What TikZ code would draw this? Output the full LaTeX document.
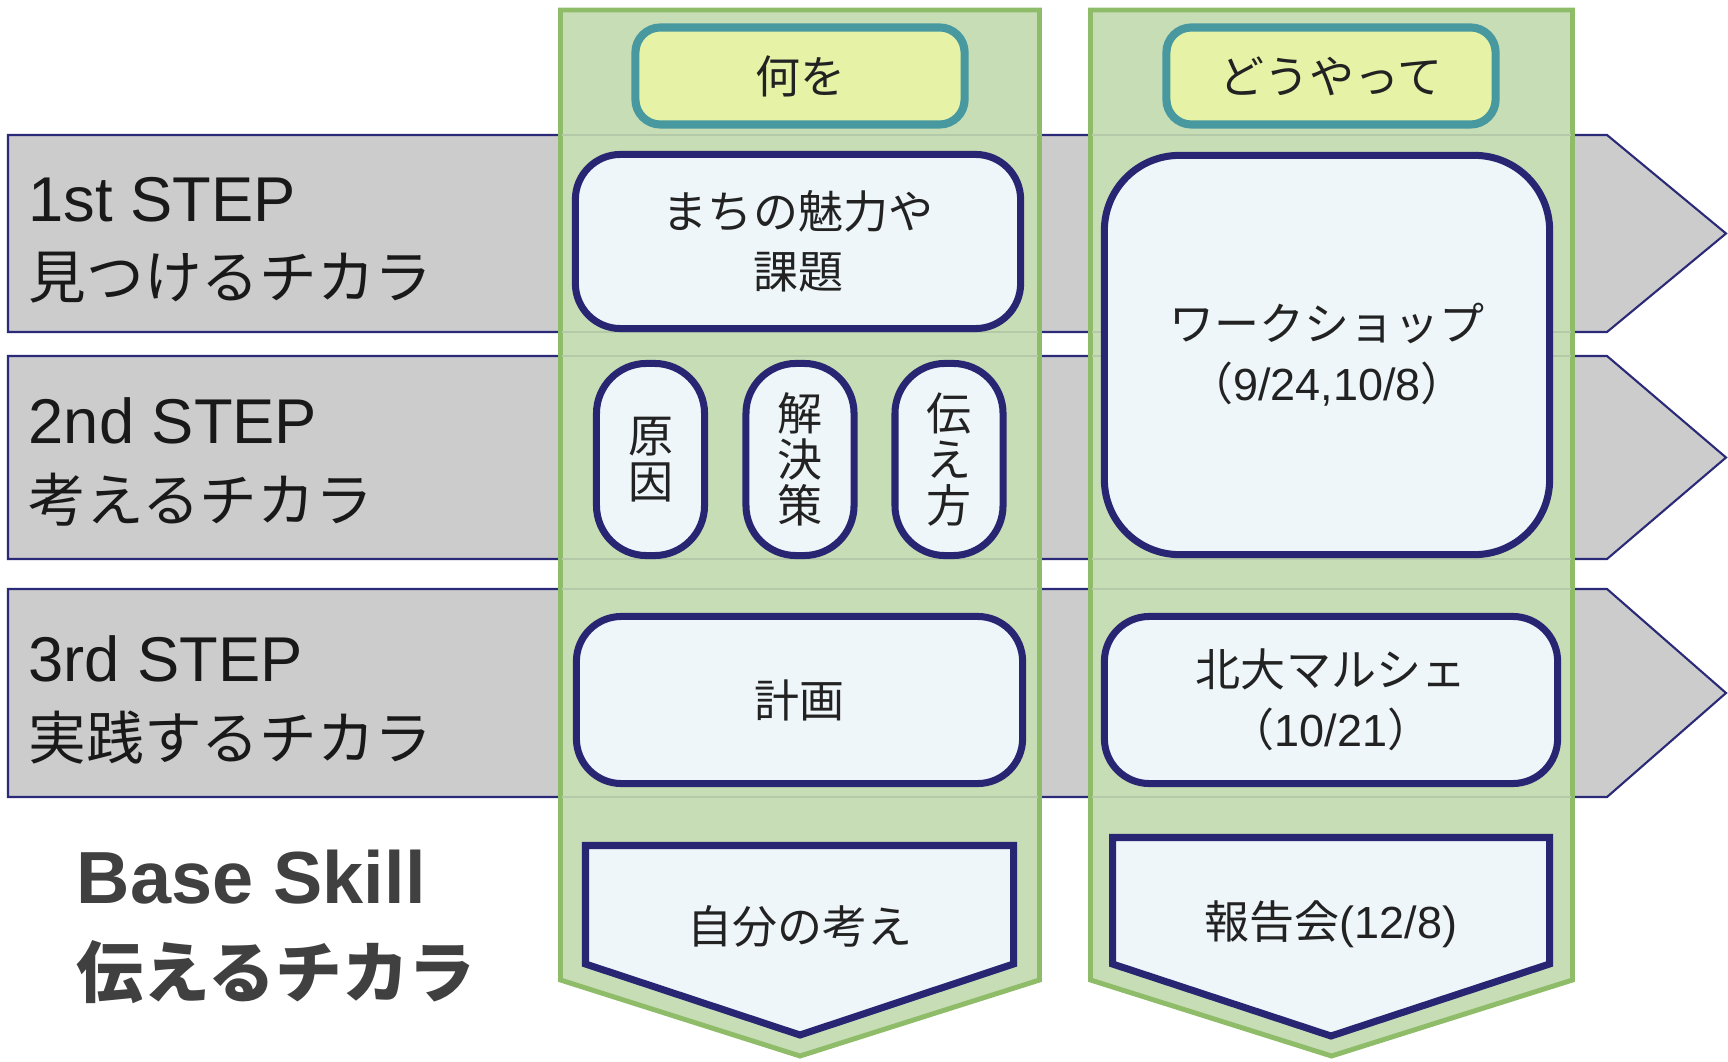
\documentclass[tikz,border=0pt]{standalone}
\usepackage{fontspec}
\setmainfont{Liberation Sans}
\newfontfamily\jp{Noto Sans CJK JP}
\newfontfamily\lat{Liberation Sans}

\definecolor{bandgray}{HTML}{CCCCCC}
\definecolor{bandline}{HTML}{2B2A78}
\definecolor{lanefill}{HTML}{C7DDB5}
\definecolor{laneline}{HTML}{8EBC69}
\definecolor{seam}{HTML}{B3C9A8}
\definecolor{itemfill}{HTML}{EEF6F9}
\definecolor{itemline}{HTML}{282673}
\definecolor{headfill}{HTML}{E6F3A6}
\definecolor{headline}{HTML}{4898A0}
\definecolor{ink}{HTML}{222222}
\definecolor{basegray}{HTML}{404040}

\begin{document}
\begin{tikzpicture}
[x=0.01cm, y=-0.01cm,
band/.style={draw=bandline, fill=bandgray, line width=0.6pt},
lane/.style={draw=laneline, fill=lanefill, line width=1.4pt},
seamline/.style={draw=seam, line width=0.6pt},
item/.style={draw=itemline, fill=itemfill, line width=2pt, rounded corners=0.45cm, inner sep=0pt, align=center, text=ink, font=\jp\fontsize{12.8}{17}\selectfont},
head/.style={item, draw=headline, fill=headfill, line width=2.3pt, rounded corners=0.25cm, minimum width=3.29cm, minimum height=0.97cm},
tall/.style={item, minimum width=1.08cm, minimum height=1.92cm, rounded corners=0.5cm, font=\jp\fontsize{12.8}{13}\selectfont},
tipbox/.style={draw=itemline, fill=itemfill, line width=2pt},
boxtext/.style={inner sep=0pt, text=ink, font=\jp\fontsize{12.8}{17}\selectfont},
steplabel/.style={anchor=west, align=left, inner sep=0pt, text=black!90, font=\fontsize{18}{22}\selectfont}]
\useasboundingbox (0,0) rectangle (1728,1061);

% steps
\draw[band] (8,135) -- (1607,135) -- (1726,233.5) -- (1607,332) -- (8,332) -- cycle;
\draw[band] (8,356) -- (1607,356) -- (1726,457.5) -- (1607,559) -- (8,559) -- cycle;
\draw[band] (8,589) -- (1607,589) -- (1726,693) -- (1607,797) -- (8,797) -- cycle;
\node[steplabel] (step1) at (28,240) {1st STEP\\{\jp\fontsize{16.4}{22}\selectfont 見つけるチカラ}};
\node[steplabel] (step2) at (28,462) {2nd STEP\\{\jp\fontsize{16.4}{22}\selectfont 考えるチカラ}};
\node[steplabel] (step3) at (28,700) {3rd STEP\\{\jp\fontsize{16.4}{22}\selectfont 実践するチカラ}};
\node[anchor=west, align=left, inner sep=0pt, text=basegray, font=\bfseries\fontsize{21}{26.5}\selectfont] (base) at (76,927) {Base Skill\\{\jp\bfseries\fontsize{19}{26.5}\selectfont 伝えるチカラ}};

% columns
\draw[lane] (560.5,10) -- (1039.5,10) -- (1039.5,980) -- (800,1056) -- (560.5,980) -- cycle;
\draw[lane] (1090.5,10) -- (1572.5,10) -- (1572.5,980) -- (1331.5,1056) -- (1090.5,980) -- cycle;
\foreach \y in {135,332,356,559,589,797}{
  \draw[seamline] (562,\y) -- (1038,\y);
  \draw[seamline] (1092,\y) -- (1571,\y);
}

% what
\node[head] (whatHead) at (800,76) {何を};
\node[item, minimum width=4.45cm, minimum height=1.74cm] (charm) at (798,241.5) {まちの魅力や\\課題};
\node[tall] (cause) at (650.5,459.5) {原\\因};
\node[tall] (solution) at (800,459.5) {解\\決\\策};
\node[tall] (convey) at (949,459.5) {伝\\え\\方};
\node[item, minimum width=4.46cm, minimum height=1.67cm] (plan) at (799.5,700) {計画};
\draw[tipbox] (585.5,845.5) -- (1013.5,845.5) -- (1013.5,964) -- (800,1035) -- (585.5,964) -- cycle;
\node[boxtext] (opinion) at (800,926) {自分の考え};

% how
\node[head] (howHead) at (1331,76) {どうやって};
\node[item, minimum width=4.45cm, minimum height=3.99cm, rounded corners=0.75cm] (workshop) at (1327,355) {ワークショップ\\（{\lat 9/24,10/8}）};
\node[item, minimum width=4.53cm, minimum height=1.67cm] (marche) at (1331,700) {北大マルシェ\\（{\lat 10/21}）};
\draw[tipbox] (1112.5,837.5) -- (1549.5,837.5) -- (1549.5,964) -- (1331,1036) -- (1112.5,964) -- cycle;
\node[boxtext] (report) at (1331,924) {報告会{\lat(12/8)}};
\end{tikzpicture}
\end{document}
